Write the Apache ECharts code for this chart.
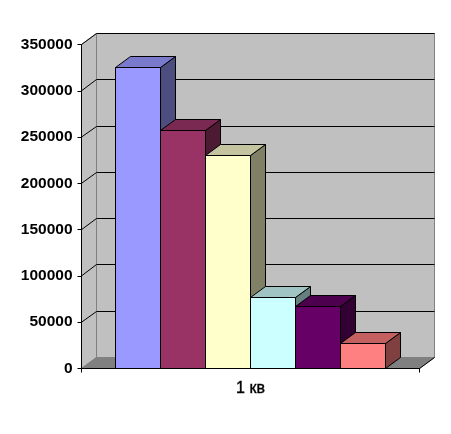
<!DOCTYPE html>
<html>
<head>
<meta charset="utf-8">
<style>html,body{margin:0;padding:0;background:#fff}#c{width:451px;height:434px}</style>
<script src="https://cdn.jsdelivr.net/npm/echarts@6/dist/echarts.min.js"></script>
</head>
<body>
<div id="c"></div>
<script>
const categories = ['1 кв'];
const seriesValues = [325500, 256800, 230100, 76400, 66600, 26700];
const seriesFront = ['#9999FF', '#993366', '#FFFFCC', '#CCFFFF', '#660066', '#FF8080'];
const seriesTop = ['#7A7ACC', '#7A2952', '#C4C4A0', '#A0C4C4', '#4D004D', '#C46060'];
const seriesSide = ['#4D4D80', '#4D1A33', '#808066', '#668080', '#330033', '#804040'];
const yTicks = [0, 50000, 100000, 150000, 200000, 250000, 300000, 350000];
const yMax = 350000;

const DX = 15, DY = -11;
const BAR_FRACTION = 45 / 338;
const snap = v => Math.floor(v) + 0.5;

function poly(points, fill, stroke) {
  return { type: 'polygon', shape: { points }, style: { fill, stroke, lineWidth: 1 } };
}
function line(x1, y1, x2, y2, stroke) {
  return { type: 'line', shape: { x1, y1, x2, y2 }, style: { stroke, lineWidth: 1 } };
}

function renderWalls(params, api) {
  const [x0, y0] = api.coord([0, 0]);
  const w = api.size([1, 0])[0];
  const l = x0 - w / 2, r = x0 + w / 2;
  const t = api.coord([0, yMax])[1];
  const children = [
    poly([[l, y0], [l + DX, y0 + DY], [l + DX, t + DY], [l, t]], '#C0C0C0', '#808080'),
    poly([[l + DX, y0 + DY], [r + DX, y0 + DY], [r + DX, t + DY], [l + DX, t + DY]], '#C0C0C0', '#808080'),
    poly([[l, y0], [r, y0], [r + DX, y0 + DY], [l + DX, y0 + DY]], '#808080', '#808080'),
    line(r, y0, r + DX, y0 + DY, '#000')
  ];
  return { type: 'group', children };
}

function renderGrid(params, api) {
  const [x0] = api.coord([0, 0]);
  const w = api.size([1, 0])[0];
  const l = x0 - w / 2, r = x0 + w / 2;
  const y = api.coord([0, api.value(1)])[1];
  const back = snap(y + DY);
  return {
    type: 'group',
    children: [
      line(l, y, l + DX, back, '#000'),
      line(l + DX, back, r + DX, back, '#000')
    ]
  };
}

function renderBar(index) {
  return function (params, api) {
    const [cx, y0] = api.coord([0, 0]);
    const top = api.coord([0, api.value(1)])[1];
    const bw = api.size([1, 0])[0] * BAR_FRACTION;
    const count = seriesValues.length;
    const x1 = cx + (index - count / 2) * bw;
    const x2 = x1 + bw;
    const yt = snap(top);
    return {
      type: 'group',
      children: [
        poly([[x2, y0], [x2 + DX, y0 + DY], [x2 + DX, yt + DY], [x2, yt]], seriesSide[index], '#000'),
        poly([[x1, yt], [x2, yt], [x2 + DX, yt + DY], [x1 + DX, yt + DY]], seriesTop[index], '#000'),
        poly([[x1, y0], [x2, y0], [x2, yt], [x1, yt]], seriesFront[index], '#000')
      ]
    };
  };
}

const series = [
  { type: 'custom', name: 'walls', z: 1, silent: true, clip: false, renderItem: renderWalls, data: [[0, 0]] },
  { type: 'custom', name: 'grid', z: 2, silent: true, clip: false, renderItem: renderGrid,
    data: yTicks.filter(v => v > 0).map(v => [0, v]) }
].concat(seriesValues.map((v, i) => ({
  type: 'custom', name: 'bar' + i, z: 3, clip: false, renderItem: renderBar(i), data: [[0, v]]
})));

const chart = echarts.init(document.getElementById('c'), null, { renderer: 'canvas' });
chart.setOption({
  animation: false,
  backgroundColor: '#fff',
  grid: { left: 81.5, top: 44.5, width: 338, height: 324 },
  xAxis: {
    type: 'category', data: categories, z: 5,
    axisLine: { show: true, lineStyle: { color: '#000', width: 1 } },
    axisTick: { show: true, length: 4, alignWithLabel: false, lineStyle: { color: '#000' } },
    axisLabel: { color: '#000', fontFamily: 'Liberation Sans', fontSize: 16, margin: 12,
      textBorderColor: '#000', textBorderWidth: 0.4 }
  },
  yAxis: {
    type: 'value', min: 0, max: yMax, interval: 50000, z: 5,
    splitLine: { show: false },
    axisLine: { show: true, lineStyle: { color: '#000', width: 1 } },
    axisTick: { show: true, length: 4, lineStyle: { color: '#000' } },
    axisLabel: { color: '#000', fontFamily: 'Liberation Sans', fontWeight: 'bold', fontSize: 15.5, margin: 9,
      formatter: v => String(v) }
  },
  series
});
</script>
</body>
</html>
